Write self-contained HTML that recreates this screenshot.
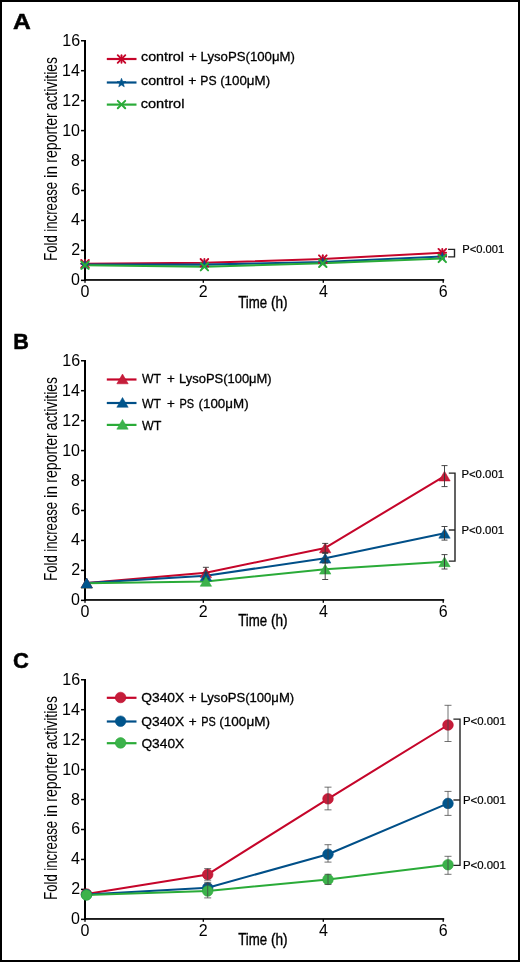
<!DOCTYPE html><html><head><meta charset="utf-8"><style>html,body{margin:0;padding:0;background:#fff;width:520px;height:962px;overflow:hidden}svg text{font-family:"Liberation Sans", sans-serif}svg{will-change:transform}</style></head><body><svg width="520" height="962" viewBox="0 0 520 962" style="display:block">
<rect x="0" y="0" width="520" height="962" fill="#fff"/>
<rect x="1" y="1" width="518" height="960" fill="none" stroke="#000" stroke-width="2"/>
<text x="12.93" y="28.7" font-size="22" font-weight="bold" stroke="#000" stroke-width="0.5" fill="#000" textLength="17.79" lengthAdjust="spacingAndGlyphs">A</text>
<rect x="84" y="40" width="2" height="241" fill="#000"/>
<rect x="84" y="279.1" width="360.2" height="1.7" fill="#000"/>
<rect x="81" y="279.60" width="3" height="1.5" fill="#000"/>
<text x="71.06" y="285.30" font-size="16">0</text>
<rect x="81" y="249.65" width="3" height="1.5" fill="#000"/>
<text x="71.22" y="255.35" font-size="16">2</text>
<rect x="81" y="219.70" width="3" height="1.5" fill="#000"/>
<text x="70.90" y="225.40" font-size="16">4</text>
<rect x="81" y="189.75" width="3" height="1.5" fill="#000"/>
<text x="71.14" y="195.45" font-size="16">6</text>
<rect x="81" y="159.80" width="3" height="1.5" fill="#000"/>
<text x="71.06" y="165.50" font-size="16">8</text>
<rect x="81" y="129.85" width="3" height="1.5" fill="#000"/>
<text x="62.18" y="135.55" font-size="16">10</text>
<rect x="81" y="99.90" width="3" height="1.5" fill="#000"/>
<text x="62.34" y="105.60" font-size="16">12</text>
<rect x="81" y="69.95" width="3" height="1.5" fill="#000"/>
<text x="62.02" y="75.65" font-size="16">14</text>
<rect x="81" y="40.00" width="3" height="1.5" fill="#000"/>
<text x="62.26" y="45.70" font-size="16">16</text>
<rect x="84.35" y="280" width="1.3" height="2.8" fill="#000"/>
<text x="80.56" y="296.80" font-size="16">0</text>
<rect x="202.65" y="280" width="1.3" height="2.8" fill="#000"/>
<text x="198.86" y="296.80" font-size="16">2</text>
<rect x="322.65" y="280" width="1.3" height="2.8" fill="#000"/>
<text x="318.90" y="296.80" font-size="16">4</text>
<rect x="442.55" y="280" width="1.3" height="2.8" fill="#000"/>
<text x="438.72" y="296.80" font-size="16">6</text>
<g transform="translate(57.4,259.7) rotate(-90)">
<text x="-1.04" y="0" font-size="17.8" fill="#000" textLength="25.4" lengthAdjust="spacingAndGlyphs">Fold</text>
<text x="28.04" y="0" font-size="17.8" fill="#000" textLength="49.85" lengthAdjust="spacingAndGlyphs">increase</text>
<text x="81.68" y="0" font-size="17.8" fill="#000" textLength="12.19" lengthAdjust="spacingAndGlyphs">in</text>
<text x="96.88" y="0" font-size="17.8" fill="#000" textLength="49.56" lengthAdjust="spacingAndGlyphs">reporter</text>
<text x="149.37" y="0" font-size="17.8" fill="#000" textLength="53.31" lengthAdjust="spacingAndGlyphs">activities</text>
</g>
<text x="238.13" y="307.7" font-size="17.2" stroke="#000" stroke-width="0.4" fill="#000" textLength="28.96" lengthAdjust="spacingAndGlyphs">Time</text>
<text x="270.88" y="307.7" font-size="17.2" stroke="#000" stroke-width="0.4" fill="#000" textLength="16.67" lengthAdjust="spacingAndGlyphs">(h)</text>
<line x1="106.8" y1="59.0" x2="136.5" y2="59.0" stroke="#c5052a" stroke-width="2.2"/>
<g stroke="#c5052a" stroke-width="1.9" stroke-linecap="round"><line x1="121.5" y1="55.2" x2="121.5" y2="62.8"/><line x1="117.7" y1="55.2" x2="125.3" y2="62.8"/><line x1="125.3" y1="55.2" x2="117.7" y2="62.8"/><line x1="117.7" y1="59.0" x2="125.3" y2="59.0"/></g>
<text x="141.01" y="61.2" font-size="13.4" stroke="#000" stroke-width="0.3" fill="#000" textLength="42.89" lengthAdjust="spacingAndGlyphs">control</text>
<text x="188.66" y="61.2" font-size="13.4" stroke="#000" stroke-width="0.3" fill="#000" textLength="8.07" lengthAdjust="spacingAndGlyphs">+</text>
<text x="200.6" y="61.2" font-size="13.4" stroke="#000" stroke-width="0.3" fill="#000" textLength="94.29" lengthAdjust="spacingAndGlyphs">LysoPS(100μM)</text>
<line x1="106.8" y1="82.5" x2="136.5" y2="82.5" stroke="#004f88" stroke-width="2.2"/>
<polygon points="121.50,78.30 122.68,81.38 125.97,81.55 123.40,83.62 124.26,86.80 121.50,85.00 118.74,86.80 119.60,83.62 117.03,81.55 120.32,81.38" fill="#00558c" stroke="#004f88" stroke-width="0.6" stroke-linejoin="round"/>
<text x="141.01" y="85.0" font-size="13.4" stroke="#000" stroke-width="0.3" fill="#000" textLength="42.89" lengthAdjust="spacingAndGlyphs">control</text>
<text x="188.15" y="85.0" font-size="13.4" stroke="#000" stroke-width="0.3" fill="#000" textLength="8.19" lengthAdjust="spacingAndGlyphs">+</text>
<text x="200.37" y="85.0" font-size="13.4" stroke="#000" stroke-width="0.3" fill="#000" textLength="16.27" lengthAdjust="spacingAndGlyphs">PS</text>
<text x="220.15" y="85.0" font-size="13.4" stroke="#000" stroke-width="0.3" fill="#000" textLength="49.95" lengthAdjust="spacingAndGlyphs">(100μM)</text>
<line x1="106.8" y1="104.6" x2="136.5" y2="104.6" stroke="#2aab38" stroke-width="2.2"/>
<g stroke="#2aab38" stroke-width="2" stroke-linecap="round"><line x1="117.8" y1="100.89999999999999" x2="125.2" y2="108.3"/><line x1="125.2" y1="100.89999999999999" x2="117.8" y2="108.3"/></g>
<text x="140.69" y="108.0" font-size="13.4" stroke="#000" stroke-width="0.3" fill="#000" textLength="43.73" lengthAdjust="spacingAndGlyphs">control</text>
<polyline points="85,263.8 204.4,262.8 322.8,259.1 442.3,252.7" fill="none" stroke="#c5052a" stroke-width="2.05" stroke-linejoin="round"/>
<polyline points="85,264.6 204.4,264.6 322.8,262.0 442.3,256.5" fill="none" stroke="#004f88" stroke-width="2.05" stroke-linejoin="round"/>
<polyline points="85,265.2 204.4,266.7 322.8,263.3 442.3,258.4" fill="none" stroke="#2aab38" stroke-width="2.05" stroke-linejoin="round"/>
<g stroke="#c5052a" stroke-width="1.9" stroke-linecap="round"><line x1="85" y1="260.0" x2="85" y2="267.6"/><line x1="81.2" y1="260.0" x2="88.8" y2="267.6"/><line x1="88.8" y1="260.0" x2="81.2" y2="267.6"/><line x1="81.2" y1="263.8" x2="88.8" y2="263.8"/></g>
<polygon points="85.00,260.40 86.18,263.48 89.47,263.65 86.90,265.72 87.76,268.90 85.00,267.10 82.24,268.90 83.10,265.72 80.53,263.65 83.82,263.48" fill="#00558c" stroke="#004f88" stroke-width="0.6" stroke-linejoin="round"/>
<g stroke="#2aab38" stroke-width="2" stroke-linecap="round"><line x1="81.3" y1="261.5" x2="88.7" y2="268.9"/><line x1="88.7" y1="261.5" x2="81.3" y2="268.9"/></g>
<g stroke="#c5052a" stroke-width="1.9" stroke-linecap="round"><line x1="204.4" y1="259.0" x2="204.4" y2="266.6"/><line x1="200.6" y1="259.0" x2="208.20000000000002" y2="266.6"/><line x1="208.20000000000002" y1="259.0" x2="200.6" y2="266.6"/><line x1="200.6" y1="262.8" x2="208.20000000000002" y2="262.8"/></g>
<polygon points="204.40,260.40 205.58,263.48 208.87,263.65 206.30,265.72 207.16,268.90 204.40,267.10 201.64,268.90 202.50,265.72 199.93,263.65 203.22,263.48" fill="#00558c" stroke="#004f88" stroke-width="0.6" stroke-linejoin="round"/>
<g stroke="#2aab38" stroke-width="2" stroke-linecap="round"><line x1="200.70000000000002" y1="263.0" x2="208.1" y2="270.4"/><line x1="208.1" y1="263.0" x2="200.70000000000002" y2="270.4"/></g>
<g stroke="#c5052a" stroke-width="1.9" stroke-linecap="round"><line x1="322.8" y1="255.3" x2="322.8" y2="262.90000000000003"/><line x1="319.0" y1="255.3" x2="326.6" y2="262.90000000000003"/><line x1="326.6" y1="255.3" x2="319.0" y2="262.90000000000003"/><line x1="319.0" y1="259.1" x2="326.6" y2="259.1"/></g>
<polygon points="322.80,257.80 323.98,260.88 327.27,261.05 324.70,263.12 325.56,266.30 322.80,264.50 320.04,266.30 320.90,263.12 318.33,261.05 321.62,260.88" fill="#00558c" stroke="#004f88" stroke-width="0.6" stroke-linejoin="round"/>
<g stroke="#2aab38" stroke-width="2" stroke-linecap="round"><line x1="319.1" y1="259.6" x2="326.5" y2="267.0"/><line x1="326.5" y1="259.6" x2="319.1" y2="267.0"/></g>
<g stroke="#c5052a" stroke-width="1.9" stroke-linecap="round"><line x1="442.3" y1="248.89999999999998" x2="442.3" y2="256.5"/><line x1="438.5" y1="248.89999999999998" x2="446.1" y2="256.5"/><line x1="446.1" y1="248.89999999999998" x2="438.5" y2="256.5"/><line x1="438.5" y1="252.7" x2="446.1" y2="252.7"/></g>
<polygon points="442.30,252.30 443.48,255.38 446.77,255.55 444.20,257.62 445.06,260.80 442.30,259.00 439.54,260.80 440.40,257.62 437.83,255.55 441.12,255.38" fill="#00558c" stroke="#004f88" stroke-width="0.6" stroke-linejoin="round"/>
<g stroke="#2aab38" stroke-width="2" stroke-linecap="round"><line x1="438.6" y1="254.7" x2="446.0" y2="262.09999999999997"/><line x1="446.0" y1="254.7" x2="438.6" y2="262.09999999999997"/></g>
<g stroke="#222" stroke-width="1.4" fill="none"><polyline points="448.1,249.4 454.5,249.4 454.5,256.9 448.1,256.9"/>
</g>
<text x="462.31" y="253.11" font-size="10.9" stroke="#000" stroke-width="0.2" fill="#000" textLength="41.94" lengthAdjust="spacingAndGlyphs">P&lt;0.001</text>
<text x="13.34" y="349.0" font-size="22" font-weight="bold" stroke="#000" stroke-width="0.5" fill="#000" textLength="15.63" lengthAdjust="spacingAndGlyphs">B</text>
<rect x="84" y="360" width="2" height="241" fill="#000"/>
<rect x="84" y="599.1" width="360.2" height="1.7" fill="#000"/>
<rect x="81" y="599.60" width="3" height="1.5" fill="#000"/>
<text x="71.06" y="605.30" font-size="16">0</text>
<rect x="81" y="569.65" width="3" height="1.5" fill="#000"/>
<text x="71.22" y="575.35" font-size="16">2</text>
<rect x="81" y="539.70" width="3" height="1.5" fill="#000"/>
<text x="70.90" y="545.40" font-size="16">4</text>
<rect x="81" y="509.75" width="3" height="1.5" fill="#000"/>
<text x="71.14" y="515.45" font-size="16">6</text>
<rect x="81" y="479.80" width="3" height="1.5" fill="#000"/>
<text x="71.06" y="485.50" font-size="16">8</text>
<rect x="81" y="449.85" width="3" height="1.5" fill="#000"/>
<text x="62.18" y="455.55" font-size="16">10</text>
<rect x="81" y="419.90" width="3" height="1.5" fill="#000"/>
<text x="62.34" y="425.60" font-size="16">12</text>
<rect x="81" y="389.95" width="3" height="1.5" fill="#000"/>
<text x="62.02" y="395.65" font-size="16">14</text>
<rect x="81" y="360.00" width="3" height="1.5" fill="#000"/>
<text x="62.26" y="365.70" font-size="16">16</text>
<rect x="84.35" y="600" width="1.3" height="2.8" fill="#000"/>
<text x="80.56" y="616.80" font-size="16">0</text>
<rect x="202.65" y="600" width="1.3" height="2.8" fill="#000"/>
<text x="198.86" y="616.80" font-size="16">2</text>
<rect x="322.65" y="600" width="1.3" height="2.8" fill="#000"/>
<text x="318.90" y="616.80" font-size="16">4</text>
<rect x="442.55" y="600" width="1.3" height="2.8" fill="#000"/>
<text x="438.72" y="616.80" font-size="16">6</text>
<g transform="translate(57.4,579.7) rotate(-90)">
<text x="-1.04" y="0" font-size="17.8" fill="#000" textLength="25.4" lengthAdjust="spacingAndGlyphs">Fold</text>
<text x="28.04" y="0" font-size="17.8" fill="#000" textLength="49.85" lengthAdjust="spacingAndGlyphs">increase</text>
<text x="81.68" y="0" font-size="17.8" fill="#000" textLength="12.19" lengthAdjust="spacingAndGlyphs">in</text>
<text x="96.88" y="0" font-size="17.8" fill="#000" textLength="49.56" lengthAdjust="spacingAndGlyphs">reporter</text>
<text x="149.37" y="0" font-size="17.8" fill="#000" textLength="53.31" lengthAdjust="spacingAndGlyphs">activities</text>
</g>
<text x="238.13" y="626.3" font-size="17.2" stroke="#000" stroke-width="0.4" fill="#000" textLength="28.96" lengthAdjust="spacingAndGlyphs">Time</text>
<text x="270.88" y="626.3" font-size="17.2" stroke="#000" stroke-width="0.4" fill="#000" textLength="16.67" lengthAdjust="spacingAndGlyphs">(h)</text>
<line x1="106.8" y1="379.5" x2="136.5" y2="379.5" stroke="#c5052a" stroke-width="2.2"/>
<polygon points="116.80,383.80 128.20,383.80 122.50,374.00" fill="#c41e3a" stroke="#c5052a" stroke-width="0.5"/>
<text x="141.89" y="383.4" font-size="13.4" stroke="#000" stroke-width="0.3" fill="#000" textLength="19.0" lengthAdjust="spacingAndGlyphs">WT</text>
<text x="166.88" y="383.4" font-size="13.4" stroke="#000" stroke-width="0.3" fill="#000" textLength="7.83" lengthAdjust="spacingAndGlyphs">+</text>
<text x="179.11" y="383.4" font-size="13.4" stroke="#000" stroke-width="0.3" fill="#000" textLength="92.55" lengthAdjust="spacingAndGlyphs">LysoPS(100μM)</text>
<line x1="106.8" y1="403.0" x2="136.5" y2="403.0" stroke="#004f88" stroke-width="2.2"/>
<polygon points="116.80,407.30 128.20,407.30 122.50,397.50" fill="#00558c" stroke="#004f88" stroke-width="0.5"/>
<text x="141.89" y="407.5" font-size="13.4" stroke="#000" stroke-width="0.3" fill="#000" textLength="19.0" lengthAdjust="spacingAndGlyphs">WT</text>
<text x="166.88" y="407.5" font-size="13.4" stroke="#000" stroke-width="0.3" fill="#000" textLength="7.83" lengthAdjust="spacingAndGlyphs">+</text>
<text x="179.57" y="407.5" font-size="13.4" stroke="#000" stroke-width="0.3" fill="#000" textLength="14.61" lengthAdjust="spacingAndGlyphs">PS</text>
<text x="198.55" y="407.5" font-size="13.4" stroke="#000" stroke-width="0.3" fill="#000" textLength="50.06" lengthAdjust="spacingAndGlyphs">(100μM)</text>
<line x1="106.8" y1="424.9" x2="136.5" y2="424.9" stroke="#2aab38" stroke-width="2.2"/>
<polygon points="116.80,429.20 128.20,429.20 122.50,419.40" fill="#3cb24b" stroke="#2aab38" stroke-width="0.5"/>
<text x="141.89" y="429.8" font-size="13.4" stroke="#000" stroke-width="0.3" fill="#000" textLength="19.41" lengthAdjust="spacingAndGlyphs">WT</text>
<polyline points="86.7,583.0 205.9,572.7 325.2,547.9 444.5,476.1" fill="none" stroke="#c5052a" stroke-width="2.05" stroke-linejoin="round"/>
<polyline points="86.7,583.0 205.9,575.8 325.2,558.2 444.5,533.3" fill="none" stroke="#004f88" stroke-width="2.05" stroke-linejoin="round"/>
<polyline points="86.7,583.2 205.9,581.4 325.2,569.2 444.5,561.8" fill="none" stroke="#2aab38" stroke-width="2.05" stroke-linejoin="round"/>
<polygon points="81.00,588.10 92.40,588.10 86.70,578.30" fill="#3cb24b" stroke="#2aab38" stroke-width="0.5"/>
<polygon points="81.00,587.90 92.40,587.90 86.70,578.10" fill="#c41e3a" stroke="#c5052a" stroke-width="0.5"/>
<polygon points="81.00,587.90 92.40,587.90 86.70,578.10" fill="#00558c" stroke="#004f88" stroke-width="0.5"/>
<polygon points="200.20,577.60 211.60,577.60 205.90,567.80" fill="#c41e3a" stroke="#c5052a" stroke-width="0.5"/>
<g stroke="#333" stroke-width="0.9"><line x1="205.9" y1="567.3000000000001" x2="205.9" y2="578.1"/><line x1="202.9" y1="567.3000000000001" x2="208.9" y2="567.3000000000001"/><line x1="202.9" y1="578.1" x2="208.9" y2="578.1"/></g>
<polygon points="200.20,580.70 211.60,580.70 205.90,570.90" fill="#00558c" stroke="#004f88" stroke-width="0.5"/>
<g stroke="#333" stroke-width="0.9"><line x1="205.9" y1="572.8" x2="205.9" y2="578.8"/><line x1="202.9" y1="572.8" x2="208.9" y2="572.8"/><line x1="202.9" y1="578.8" x2="208.9" y2="578.8"/></g>
<polygon points="200.20,586.30 211.60,586.30 205.90,576.50" fill="#3cb24b" stroke="#2aab38" stroke-width="0.5"/>
<polygon points="319.50,552.80 330.90,552.80 325.20,543.00" fill="#c41e3a" stroke="#c5052a" stroke-width="0.5"/>
<g stroke="#333" stroke-width="0.9"><line x1="325.2" y1="543.4" x2="325.2" y2="552.4"/><line x1="322.2" y1="543.4" x2="328.2" y2="543.4"/><line x1="322.2" y1="552.4" x2="328.2" y2="552.4"/></g>
<polygon points="319.50,563.10 330.90,563.10 325.20,553.30" fill="#00558c" stroke="#004f88" stroke-width="0.5"/>
<g stroke="#333" stroke-width="0.9"><line x1="325.2" y1="553.4000000000001" x2="325.2" y2="563.0"/><line x1="322.2" y1="553.4000000000001" x2="328.2" y2="553.4000000000001"/><line x1="322.2" y1="563.0" x2="328.2" y2="563.0"/></g>
<polygon points="319.50,574.10 330.90,574.10 325.20,564.30" fill="#3cb24b" stroke="#2aab38" stroke-width="0.5"/>
<g stroke="#333" stroke-width="0.9"><line x1="325.2" y1="558.9000000000001" x2="325.2" y2="579.5"/><line x1="322.2" y1="558.9000000000001" x2="328.2" y2="558.9000000000001"/><line x1="322.2" y1="579.5" x2="328.2" y2="579.5"/></g>
<polygon points="438.80,481.00 450.20,481.00 444.50,471.20" fill="#c41e3a" stroke="#c5052a" stroke-width="0.5"/>
<g stroke="#333" stroke-width="0.9"><line x1="444.5" y1="465.6" x2="444.5" y2="486.6"/><line x1="441.5" y1="465.6" x2="447.5" y2="465.6"/><line x1="441.5" y1="486.6" x2="447.5" y2="486.6"/></g>
<polygon points="438.80,538.20 450.20,538.20 444.50,528.40" fill="#00558c" stroke="#004f88" stroke-width="0.5"/>
<g stroke="#333" stroke-width="0.9"><line x1="444.5" y1="526.5" x2="444.5" y2="540.0999999999999"/><line x1="441.5" y1="526.5" x2="447.5" y2="526.5"/><line x1="441.5" y1="540.0999999999999" x2="447.5" y2="540.0999999999999"/></g>
<polygon points="438.80,566.70 450.20,566.70 444.50,556.90" fill="#3cb24b" stroke="#2aab38" stroke-width="0.5"/>
<g stroke="#333" stroke-width="0.9"><line x1="444.5" y1="554.5999999999999" x2="444.5" y2="569.0"/><line x1="441.5" y1="554.5999999999999" x2="447.5" y2="554.5999999999999"/><line x1="441.5" y1="569.0" x2="447.5" y2="569.0"/></g>
<g stroke="#222" stroke-width="1.4" fill="none"><polyline points="448.8,473.1 455.0,473.1 455.0,561.1 448.8,561.1"/>
<line x1="448.8" y1="530.0" x2="455.0" y2="530.0"/>
</g>
<text x="461.44" y="478.16" font-size="10.9" stroke="#000" stroke-width="0.2" fill="#000" textLength="42.56" lengthAdjust="spacingAndGlyphs">P&lt;0.001</text>
<text x="461.44" y="533.51" font-size="10.9" stroke="#000" stroke-width="0.2" fill="#000" textLength="42.56" lengthAdjust="spacingAndGlyphs">P&lt;0.001</text>
<text x="13.07" y="667.8" font-size="22" font-weight="bold" stroke="#000" stroke-width="0.5" fill="#000" textLength="15.88" lengthAdjust="spacingAndGlyphs">C</text>
<rect x="84" y="679" width="2" height="241" fill="#000"/>
<rect x="84" y="918.1" width="360.2" height="1.7" fill="#000"/>
<rect x="81" y="918.60" width="3" height="1.5" fill="#000"/>
<text x="71.06" y="924.30" font-size="16">0</text>
<rect x="81" y="888.65" width="3" height="1.5" fill="#000"/>
<text x="71.22" y="894.35" font-size="16">2</text>
<rect x="81" y="858.70" width="3" height="1.5" fill="#000"/>
<text x="70.90" y="864.40" font-size="16">4</text>
<rect x="81" y="828.75" width="3" height="1.5" fill="#000"/>
<text x="71.14" y="834.45" font-size="16">6</text>
<rect x="81" y="798.80" width="3" height="1.5" fill="#000"/>
<text x="71.06" y="804.50" font-size="16">8</text>
<rect x="81" y="768.85" width="3" height="1.5" fill="#000"/>
<text x="62.18" y="774.55" font-size="16">10</text>
<rect x="81" y="738.90" width="3" height="1.5" fill="#000"/>
<text x="62.34" y="744.60" font-size="16">12</text>
<rect x="81" y="708.95" width="3" height="1.5" fill="#000"/>
<text x="62.02" y="714.65" font-size="16">14</text>
<rect x="81" y="679.00" width="3" height="1.5" fill="#000"/>
<text x="62.26" y="684.70" font-size="16">16</text>
<rect x="84.35" y="919" width="1.3" height="2.8" fill="#000"/>
<text x="80.56" y="935.80" font-size="16">0</text>
<rect x="202.65" y="919" width="1.3" height="2.8" fill="#000"/>
<text x="198.86" y="935.80" font-size="16">2</text>
<rect x="322.65" y="919" width="1.3" height="2.8" fill="#000"/>
<text x="318.90" y="935.80" font-size="16">4</text>
<rect x="442.55" y="919" width="1.3" height="2.8" fill="#000"/>
<text x="438.72" y="935.80" font-size="16">6</text>
<g transform="translate(57.4,898.7) rotate(-90)">
<text x="-1.04" y="0" font-size="17.8" fill="#000" textLength="25.4" lengthAdjust="spacingAndGlyphs">Fold</text>
<text x="28.04" y="0" font-size="17.8" fill="#000" textLength="49.85" lengthAdjust="spacingAndGlyphs">increase</text>
<text x="81.68" y="0" font-size="17.8" fill="#000" textLength="12.19" lengthAdjust="spacingAndGlyphs">in</text>
<text x="96.88" y="0" font-size="17.8" fill="#000" textLength="49.56" lengthAdjust="spacingAndGlyphs">reporter</text>
<text x="149.37" y="0" font-size="17.8" fill="#000" textLength="53.31" lengthAdjust="spacingAndGlyphs">activities</text>
</g>
<text x="238.13" y="944.6" font-size="17.2" stroke="#000" stroke-width="0.4" fill="#000" textLength="28.96" lengthAdjust="spacingAndGlyphs">Time</text>
<text x="270.88" y="944.6" font-size="17.2" stroke="#000" stroke-width="0.4" fill="#000" textLength="16.67" lengthAdjust="spacingAndGlyphs">(h)</text>
<line x1="106.8" y1="697.8" x2="136.5" y2="697.8" stroke="#c5052a" stroke-width="2.2"/>
<circle cx="120.6" cy="697.5" r="5.3" fill="#c41e3a" stroke="#c5052a" stroke-width="0.6"/>
<text x="141.23" y="701.8" font-size="13.4" stroke="#000" stroke-width="0.3" fill="#000" textLength="43.05" lengthAdjust="spacingAndGlyphs">Q340X</text>
<text x="188.77" y="701.8" font-size="13.4" stroke="#000" stroke-width="0.3" fill="#000" textLength="7.95" lengthAdjust="spacingAndGlyphs">+</text>
<text x="200.5" y="701.8" font-size="13.4" stroke="#000" stroke-width="0.3" fill="#000" textLength="93.67" lengthAdjust="spacingAndGlyphs">LysoPS(100μM)</text>
<line x1="106.8" y1="721.5" x2="136.5" y2="721.5" stroke="#004f88" stroke-width="2.2"/>
<circle cx="120.6" cy="721.2" r="5.3" fill="#00558c" stroke="#004f88" stroke-width="0.6"/>
<text x="141.23" y="725.7" font-size="13.4" stroke="#000" stroke-width="0.3" fill="#000" textLength="43.05" lengthAdjust="spacingAndGlyphs">Q340X</text>
<text x="188.77" y="725.7" font-size="13.4" stroke="#000" stroke-width="0.3" fill="#000" textLength="7.95" lengthAdjust="spacingAndGlyphs">+</text>
<text x="201.18" y="725.7" font-size="13.4" stroke="#000" stroke-width="0.3" fill="#000" textLength="14.5" lengthAdjust="spacingAndGlyphs">PS</text>
<text x="219.24" y="725.7" font-size="13.4" stroke="#000" stroke-width="0.3" fill="#000" textLength="50.78" lengthAdjust="spacingAndGlyphs">(100μM)</text>
<line x1="106.8" y1="743.2" x2="136.5" y2="743.2" stroke="#2aab38" stroke-width="2.2"/>
<circle cx="120.6" cy="742.9000000000001" r="5.3" fill="#3cb24b" stroke="#2aab38" stroke-width="0.6"/>
<text x="141.43" y="748.2" font-size="13.4" stroke="#000" stroke-width="0.3" fill="#000" textLength="42.84" lengthAdjust="spacingAndGlyphs">Q340X</text>
<polyline points="86.5,894.0 207.7,874.4 328.0,798.8 448.0,725.0" fill="none" stroke="#c5052a" stroke-width="2.05" stroke-linejoin="round"/>
<polyline points="86.5,894.6 207.7,887.8 328.0,854.2 448.0,803.4" fill="none" stroke="#004f88" stroke-width="2.05" stroke-linejoin="round"/>
<polyline points="86.5,895.0 207.7,891.0 328.0,879.4 448.0,864.7" fill="none" stroke="#2aab38" stroke-width="2.05" stroke-linejoin="round"/>
<circle cx="86.5" cy="894.0" r="5.3" fill="#c41e3a" stroke="#c5052a" stroke-width="0.6"/>
<circle cx="86.5" cy="894.6" r="5.3" fill="#00558c" stroke="#004f88" stroke-width="0.6"/>
<circle cx="86.5" cy="895.0" r="5.3" fill="#3cb24b" stroke="#2aab38" stroke-width="0.6"/>
<circle cx="207.7" cy="874.4" r="5.3" fill="#c41e3a" stroke="#c5052a" stroke-width="0.6"/>
<g stroke="#444" stroke-width="0.75"><line x1="207.7" y1="868.6" x2="207.7" y2="880.1999999999999"/><line x1="204.2" y1="868.6" x2="211.2" y2="868.6"/><line x1="204.2" y1="880.1999999999999" x2="211.2" y2="880.1999999999999"/></g>
<circle cx="207.7" cy="887.8" r="5.3" fill="#00558c" stroke="#004f88" stroke-width="0.6"/>
<g stroke="#444" stroke-width="0.75"><line x1="207.7" y1="882.3" x2="207.7" y2="893.3"/><line x1="204.2" y1="882.3" x2="211.2" y2="882.3"/><line x1="204.2" y1="893.3" x2="211.2" y2="893.3"/></g>
<circle cx="207.7" cy="891.0" r="5.3" fill="#3cb24b" stroke="#2aab38" stroke-width="0.6"/>
<g stroke="#444" stroke-width="0.75"><line x1="207.7" y1="884.1" x2="207.7" y2="897.9"/><line x1="204.2" y1="884.1" x2="211.2" y2="884.1"/><line x1="204.2" y1="897.9" x2="211.2" y2="897.9"/></g>
<circle cx="328.0" cy="798.8" r="5.3" fill="#c41e3a" stroke="#c5052a" stroke-width="0.6"/>
<g stroke="#444" stroke-width="0.75"><line x1="328.0" y1="787.15" x2="328.0" y2="809.85"/><line x1="324.5" y1="787.15" x2="331.5" y2="787.15"/><line x1="324.5" y1="809.85" x2="331.5" y2="809.85"/></g>
<circle cx="328.0" cy="854.2" r="5.3" fill="#00558c" stroke="#004f88" stroke-width="0.6"/>
<g stroke="#444" stroke-width="0.75"><line x1="328.0" y1="844.6999999999999" x2="328.0" y2="862.1"/><line x1="324.5" y1="844.6999999999999" x2="331.5" y2="844.6999999999999"/><line x1="324.5" y1="862.1" x2="331.5" y2="862.1"/></g>
<circle cx="328.0" cy="879.4" r="5.3" fill="#3cb24b" stroke="#2aab38" stroke-width="0.6"/>
<g stroke="#444" stroke-width="0.75"><line x1="328.0" y1="874.3" x2="328.0" y2="884.5"/><line x1="324.5" y1="874.3" x2="331.5" y2="874.3"/><line x1="324.5" y1="884.5" x2="331.5" y2="884.5"/></g>
<circle cx="448.0" cy="725.0" r="5.3" fill="#c41e3a" stroke="#c5052a" stroke-width="0.6"/>
<g stroke="#444" stroke-width="0.75"><line x1="448.0" y1="705.3" x2="448.0" y2="741.5"/><line x1="444.5" y1="705.3" x2="451.5" y2="705.3"/><line x1="444.5" y1="741.5" x2="451.5" y2="741.5"/></g>
<circle cx="448.0" cy="803.4" r="5.3" fill="#00558c" stroke="#004f88" stroke-width="0.6"/>
<g stroke="#444" stroke-width="0.75"><line x1="448.0" y1="791.4" x2="448.0" y2="815.4"/><line x1="444.5" y1="791.4" x2="451.5" y2="791.4"/><line x1="444.5" y1="815.4" x2="451.5" y2="815.4"/></g>
<circle cx="448.0" cy="864.7" r="5.3" fill="#3cb24b" stroke="#2aab38" stroke-width="0.6"/>
<g stroke="#444" stroke-width="0.75"><line x1="448.0" y1="856.3" x2="448.0" y2="874.3"/><line x1="444.5" y1="856.3" x2="451.5" y2="856.3"/><line x1="444.5" y1="874.3" x2="451.5" y2="874.3"/></g>
<g stroke="#222" stroke-width="1.4" fill="none"><polyline points="453.4,719.1 460.0,719.1 460.0,865.4 453.4,865.4"/>
<line x1="453.4" y1="800.0" x2="460.0" y2="800.0"/>
</g>
<text x="462.94" y="725.46" font-size="10.9" stroke="#000" stroke-width="0.2" fill="#000" textLength="42.82" lengthAdjust="spacingAndGlyphs">P&lt;0.001</text>
<text x="462.94" y="804.36" font-size="10.9" stroke="#000" stroke-width="0.2" fill="#000" textLength="42.82" lengthAdjust="spacingAndGlyphs">P&lt;0.001</text>
<text x="462.94" y="868.76" font-size="10.9" stroke="#000" stroke-width="0.2" fill="#000" textLength="42.82" lengthAdjust="spacingAndGlyphs">P&lt;0.001</text>
</svg></body></html>
